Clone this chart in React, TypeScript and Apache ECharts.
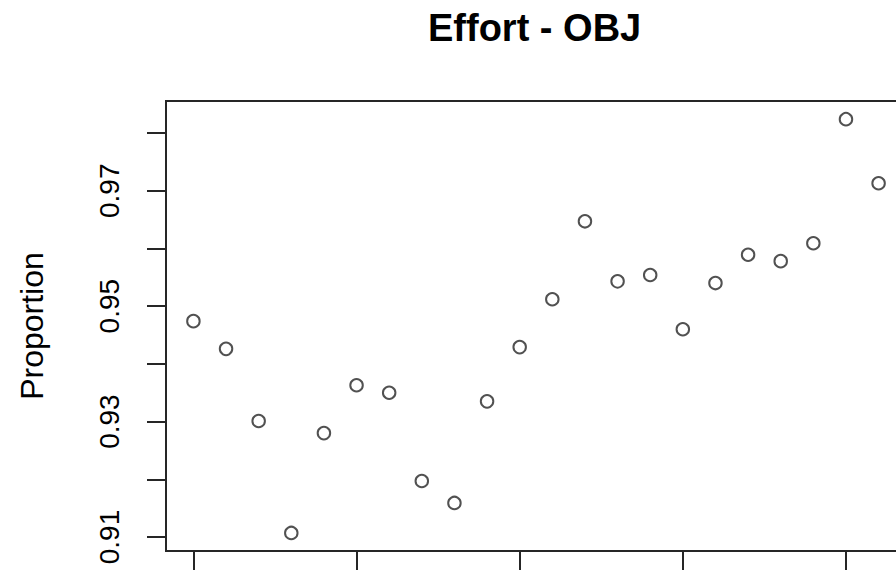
import React, { useEffect, useRef } from "react";
import * as echarts from "echarts";

const titleText = "Effort - OBJ";
const yAxisName = "Proportion";
const xValues = [0, 1, 2, 3, 4, 5, 6, 7, 8, 9, 10, 11, 12, 13, 14, 15, 16, 17, 18, 19, 20, 21];
const yValues = [
  0.9474, 0.9426, 0.9301, 0.9107, 0.928, 0.9363, 0.935, 0.9197, 0.9159, 0.9335, 0.9429,
  0.9512, 0.9647, 0.9543, 0.9554, 0.946, 0.954, 0.9589, 0.9578, 0.9609, 0.9824, 0.9713,
];
const xTicks = [0, 5, 10, 15, 20];
const yTicks = [0.91, 0.92, 0.93, 0.94, 0.95, 0.96, 0.97, 0.98];
const yTickLabels = [0.91, 0.93, 0.95, 0.97];

const FONT = "'Liberation Sans', Arial, sans-serif";
const INK = "#262626";

export default function App() {
  const ref = useRef<HTMLDivElement>(null);
  useEffect(() => {
    if (!ref.current) return;
    const chart = echarts.init(ref.current, null, { renderer: "svg" });
    const points = xValues.map((x, i) => [x, yValues[i]]);
    chart.setOption({
      animation: false,
      backgroundColor: "#ffffff",
      title: {
        text: titleText,
        left: 423,
        top: 4,
        textStyle: { fontFamily: FONT, fontWeight: "bold", fontSize: 38, color: "#000" },
      },
      grid: {
        left: 166,
        top: 101,
        width: 740,
        height: 450,
        show: true,
        borderColor: INK,
        borderWidth: 2,
        containLabel: false,
        outerBoundsMode: "none",
      },
      xAxis: {
        type: "value",
        min: -0.84,
        max: 21.84,
        splitLine: { show: false },
        axisLine: { show: true, onZero: false, lineStyle: { color: INK, width: 2 } },
        axisTick: {
          show: true,
          inside: false,
          length: 19,
          customValues: xTicks,
          lineStyle: { color: INK, width: 2 },
        },
        axisLabel: { show: false },
      },
      yAxis: {
        type: "value",
        min: 0.90757,
        max: 0.98555,
        name: yAxisName,
        nameLocation: "middle",
        nameRotate: 90,
        nameGap: 118,
        nameTextStyle: { fontFamily: FONT, fontSize: 32, color: "#000" },
        splitLine: { show: false },
        axisLine: { show: true, onZero: false, lineStyle: { color: INK, width: 2 } },
        axisTick: {
          show: true,
          inside: false,
          length: 19,
          customValues: yTicks,
          lineStyle: { color: INK, width: 2 },
        },
        axisLabel: {
          show: true,
          rotate: 90,
          margin: 43,
          customValues: yTickLabels,
          formatter: (v: number) => v.toFixed(2),
          fontFamily: FONT,
          fontSize: 28,
          color: "#000",
        },
      },
      series: [
        {
          type: "scatter",
          data: points,
          symbol: "emptyCircle",
          symbolSize: 12.5,
          clip: false,
          itemStyle: { color: INK, borderColor: INK, borderWidth: 1.6 },
          emphasis: { disabled: true },
        },
      ],
    });
    return () => chart.dispose();
  }, []);
  return (
    <div
      ref={ref}
      style={{ position: "fixed", left: 0, top: 0, width: 896, height: 573, background: "#fff" }}
    />
  );
}
